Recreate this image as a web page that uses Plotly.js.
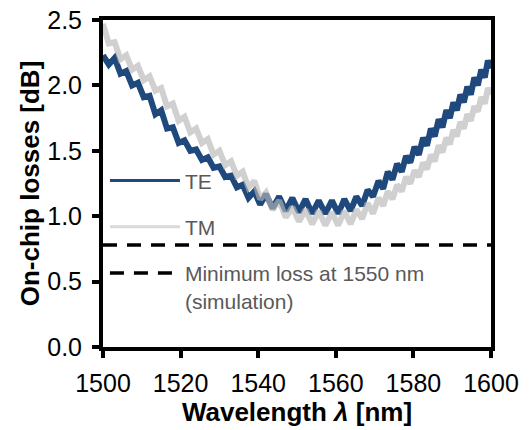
<!DOCTYPE html>
<html>
<head>
<meta charset="utf-8">
<script src="https://cdn.plot.ly/plotly-3.0.1.min.js"></script>
<style>html,body{margin:0;padding:0;background:#fff;}#chart{width:532px;height:430px;}</style>
</head>
<body>
<div id="chart"></div>
<script>
// Wavelength samples [nm] (peak / trough positions of the ripple)
const wavelength = [1500, 1501.5, 1503, 1504.5, 1506, 1507.5, 1509, 1510.5, 1512, 1513.5,
  1515, 1516.5, 1518, 1519.5, 1521, 1522.5, 1524, 1525.5, 1527, 1528.5,
  1530, 1531.5, 1533, 1534.5, 1536, 1537.5, 1539, 1540.5, 1542, 1543.7,
  1545.4, 1547.1, 1548.8, 1550.5, 1552.2, 1553.9, 1555.6, 1557.3, 1559, 1560.6,
  1562.2, 1563.8, 1565.3, 1566.8, 1568.2, 1569.6, 1571, 1572.2, 1573.4, 1574.6,
  1575.8, 1577, 1578.1, 1579.2, 1580.3, 1581.4, 1582.5, 1583.5, 1584.5, 1585.5,
  1586.5, 1587.5, 1588.5, 1589.4, 1590.3, 1591.2, 1592.1, 1593, 1593.9, 1594.8,
  1595.7, 1596.6, 1597.5, 1598.4, 1599.2, 1600];

// On-chip losses [dB], TE
const lossTE = [2.23, 2.16, 2.21, 2.09, 2.11, 2.00, 2.02, 1.91, 1.92, 1.78,
  1.81, 1.67, 1.68, 1.56, 1.58, 1.50, 1.51, 1.43, 1.45, 1.37,
  1.38, 1.30, 1.31, 1.22, 1.24, 1.14, 1.19, 1.09, 1.17, 1.06,
  1.15, 1.04, 1.14, 1.03, 1.13, 1.02, 1.12, 1.02, 1.12, 1.02,
  1.13, 1.04, 1.15, 1.08, 1.20, 1.15, 1.27, 1.21, 1.34, 1.28,
  1.40, 1.34, 1.46, 1.41, 1.53, 1.47, 1.60, 1.54, 1.67, 1.61,
  1.74, 1.68, 1.81, 1.75, 1.87, 1.81, 1.93, 1.87, 1.99, 1.93,
  2.06, 2.00, 2.12, 2.06, 2.19, 2.13];

// On-chip losses [dB], TM
const lossTM = [2.47, 2.32, 2.33, 2.20, 2.23, 2.12, 2.15, 2.04, 2.07, 1.96,
  1.98, 1.84, 1.86, 1.73, 1.76, 1.64, 1.67, 1.56, 1.59, 1.47,
  1.50, 1.39, 1.42, 1.31, 1.34, 1.22, 1.27, 1.13, 1.18, 1.05,
  1.12, 0.99, 1.07, 0.96, 1.05, 0.94, 1.04, 0.93, 1.03, 0.93,
  1.04, 0.94, 1.05, 0.98, 1.10, 1.02, 1.14, 1.08, 1.19, 1.13,
  1.24, 1.19, 1.30, 1.25, 1.35, 1.30, 1.41, 1.36, 1.47, 1.42,
  1.54, 1.49, 1.60, 1.55, 1.66, 1.61, 1.72, 1.67, 1.78, 1.73,
  1.84, 1.80, 1.91, 1.86, 1.98, 1.93];

// Simulated minimum loss at 1550 nm [dB]
const simRange = [1500, 1600];
const simLoss = [0.78, 0.78];

const seriesNames = ['TE', 'TM', 'Minimum loss at 1550 nm<br>(simulation)'];
const xTicks = [1500, 1520, 1540, 1560, 1580, 1600];
const yTicks = [0, 0.5, 1.0, 1.5, 2.0, 2.5];

const FONT = 'Liberation Sans, Arial, sans-serif';
const TE_COLOR = '#1f497d';
const TM_COLOR = 'rgba(183,183,183,0.65)';

const traces = [
  {x: wavelength, y: lossTE, name: seriesNames[0], type: 'scatter', mode: 'lines',
   line: {color: TE_COLOR, width: 6}, showlegend: false},
  {x: wavelength, y: lossTM, name: seriesNames[1], type: 'scatter', mode: 'lines',
   line: {color: TM_COLOR, width: 6}, showlegend: false},
  // legend entries (thin line symbols, as in the original legend)
  {x: [null], y: [null], name: seriesNames[0], type: 'scatter', mode: 'lines',
   line: {color: TE_COLOR, width: 3}, legendgroup: 'a'},
  {x: [null], y: [null], name: seriesNames[1], type: 'scatter', mode: 'lines',
   line: {color: '#d9d9d9', width: 3}, legendgroup: 'b'},
  {x: simRange, y: simLoss, name: seriesNames[2], type: 'scatter', mode: 'lines',
   line: {color: '#000', width: 3.5, dash: '14px,10px'}, legendgroup: 'c'}
];

const axisCommon = {
  showgrid: false, zeroline: false, showline: true, linecolor: '#000', linewidth: 4,
  mirror: true, ticks: 'outside', ticklen: 7, tickwidth: 4, tickcolor: '#000',
  tickfont: {family: FONT, size: 25, color: '#000'}
};

const layout = {
  width: 532, height: 430,
  margin: {l: 103, r: 41, t: 20, b: 83, pad: 0},
  paper_bgcolor: '#fff', plot_bgcolor: '#fff',
  showlegend: true,
  legend: {x: 0.005, y: 0.571, xanchor: 'left', yanchor: 'top', bgcolor: 'rgba(0,0,0,0)',
    font: {family: FONT, size: 21, color: '#595959'}, traceorder: 'grouped',
    tracegroupgap: 16, itemwidth: 70, valign: 'top'},
  xaxis: Object.assign({}, axisCommon, {
    range: [1500, 1600], tickvals: xTicks, ticktext: xTicks.map(String),
    ticklabelstandoff: 4,
    title: {text: '<b>Wavelength <i>λ</i> [nm]</b>', font: {family: FONT, size: 26, color: '#000'}, standoff: 4}
  }),
  yaxis: Object.assign({}, axisCommon, {
    range: [0, 2.5], tickvals: yTicks, ticktext: yTicks.map(v => v.toFixed(1)),
    ticklabelstandoff: 5,
    title: {text: '<b>On-chip losses [dB]</b>', font: {family: FONT, size: 26, color: '#000'}, standoff: 1}
  }),
  xaxis2: {overlaying: 'x', range: [1500, 1600], tickvals: xTicks, showticklabels: false,
    ticks: 'inside', ticklen: 7, tickwidth: 4, tickcolor: '#000', showgrid: false, zeroline: false,
    showline: false, side: 'bottom', anchor: 'y'},
  yaxis2: {overlaying: 'y', range: [0, 2.5], tickvals: yTicks, showticklabels: false,
    ticks: 'inside', ticklen: 7, tickwidth: 4, tickcolor: '#000', showgrid: false, zeroline: false,
    showline: false, side: 'left', anchor: 'x'}
};

Plotly.newPlot('chart', traces, layout, {displayModeBar: false, staticPlot: true});
</script>
</body>
</html>
